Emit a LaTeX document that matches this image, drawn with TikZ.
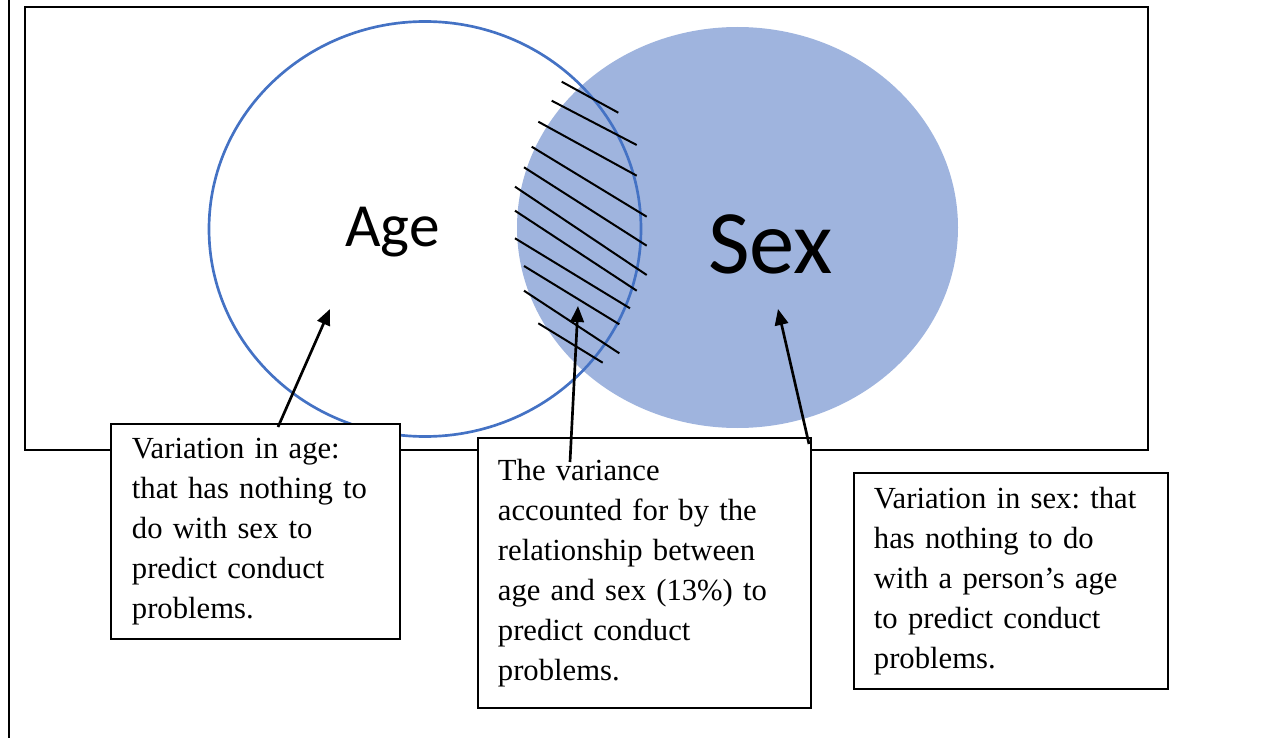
\documentclass[tikz,border=0pt]{standalone}
\usepackage{fontspec}
\setmainfont{Liberation Serif}
\newfontfamily\labelfont{Carlito}
\usetikzlibrary{arrows.meta}
\definecolor{sexfill}{HTML}{9FB4DE}
\definecolor{ageline}{HTML}{4472C4}
\frenchspacing
\begin{document}
\begin{tikzpicture}[x=0.75pt,y=-0.75pt,
  frame/.style={draw=black,line width=1.9pt},
  callout/.style={draw=black,line width=1.4pt,fill=white,align=left,
    font=\fontsize{23pt}{30pt}\selectfont,inner ysep=0pt},
  hatch/.style={draw=black,line width=1.5pt},
  pointer/.style={draw=black,line width=2pt,-{Triangle[length=12pt,width=10pt]}},
  bigword/.style={anchor=base,inner sep=0pt,text=black}]
\useasboundingbox (0,0) rectangle (1286,738);

% page edge and diagram frame
\draw[frame] (9,0) -- (9,738);
\draw[frame] (25,7) rectangle (1148,450);

% the two variables
\fill[sexfill] (737.5,227.5) ellipse [x radius=220.5, y radius=200.5];
\draw[ageline,line width=2pt] (425,229) ellipse [x radius=216, y radius=207.5];

% shared variance hatching
\draw[hatch] (561.7,81.7) -- (618.3,112.7);
\draw[hatch] (551.7,100.7) -- (636.7,145);
\draw[hatch] (538.3,121.7) -- (636.7,175.7);
\draw[hatch] (531.7,146.7) -- (646.7,216.7);
\draw[hatch] (524,167.3) -- (646.7,245.7);
\draw[hatch] (515,186.7) -- (646.7,275);
\draw[hatch] (515,210.7) -- (636.7,290.7);
\draw[hatch] (515,238.3) -- (630,308.3);
\draw[hatch] (524,266) -- (619.3,324.3);
\draw[hatch] (524,290.7) -- (619.3,353.3);
\draw[hatch] (538.3,323.3) -- (602.7,362.7);

\node[bigword,font=\labelfont\fontsize{46pt}{50pt}\selectfont] (agelabel) at (392.5,247) {Age};
\node[bigword,font=\labelfont\fontsize{68pt}{72pt}\selectfont] (sexlabel) at (770.5,273) {Sex};

% explanation boxes
\node[callout,anchor=north west,inner xsep=21*0.75pt,text width=247*0.75pt,
  minimum height=215*0.75pt] (boxage) at (110,423)
  {Variation in age:\\that has nothing to\\do with sex to\\predict conduct\\problems.};
\node[callout,anchor=north west,inner xsep=20*0.75pt,text width=293*0.75pt,
  minimum height=270*0.75pt] (boxboth) at (477,437)
  {The variance\\accounted for by the\\relationship between\\age and sex (13\%) to\\predict conduct\\problems.};
\node[callout,anchor=north west,inner xsep=20*0.75pt,text width=274*0.75pt,
  minimum height=216*0.75pt] (boxsex) at (853,472)
  {Variation in sex: that\\has nothing to do\\with a person’s age\\to predict conduct\\problems.};

% pointers from the boxes into the regions
\coordinate (agefrom) at (278,427);
\coordinate (ageto) at (330,309);
\coordinate (bothfrom) at (570,462);
\coordinate (bothto) at (578,306);
\coordinate (sexfrom) at (809,444);
\coordinate (sexto) at (778,309);
\draw[pointer] (agefrom) -- (ageto);
\draw[pointer] (bothfrom) -- (bothto);
\draw[pointer] (sexfrom) -- (sexto);
\end{tikzpicture}
\end{document}
